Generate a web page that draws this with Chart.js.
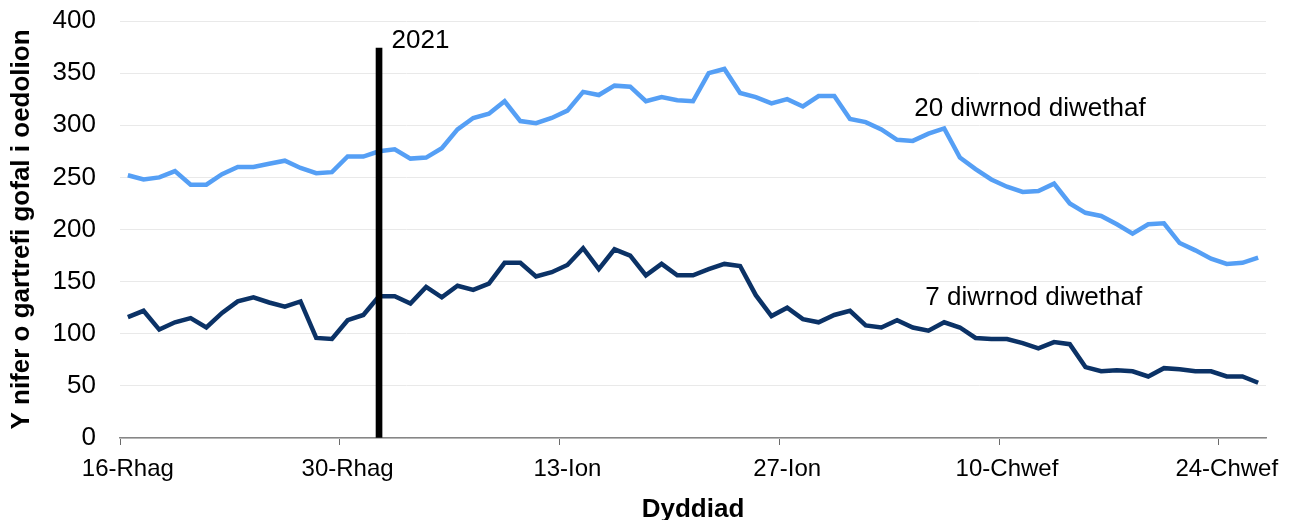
<!DOCTYPE html>
<html>
<head>
<meta charset="utf-8">
<title>Cartrefi gofal i oedolion</title>
<script src="https://cdn.jsdelivr.net/npm/chart.js@4.4.1/dist/chart.umd.min.js"></script>
<style>
  html, body { margin: 0; padding: 0; background: #fff; }
  #wrap { width: 1289px; height: 520px; }
</style>
</head>
<body>
<div id="wrap"><canvas id="chart" width="1289" height="520"></canvas></div>
<script>
// Misoedd a dyddiau (16 Rhagfyr 2020 - 26 Chwefror 2021)
const monthNames = ['Rhag', 'Ion', 'Chwef'];
const monthFirstDay = [16, 1, 1];
const monthLastDay = [31, 31, 26];

// Nifer o gartrefi gofal i oedolion - 20 diwrnod diwethaf
const twentyDay = [
  252, 248, 250, 256, 243, 243, 253, 260, 260, 263, 266, 259, 254, 255, 270, 270,
  275, 277, 268, 269, 278, 296, 307, 311, 323, 304, 302, 307, 314, 332, 329,
  338, 337, 323, 327, 324, 323, 350, 354, 331, 327, 321, 325, 318, 328, 328, 306,
  303, 296, 286, 285, 292, 297, 269, 258, 248, 241, 236, 237, 244, 225, 216, 213,
  205, 196, 205, 206, 187, 180, 172, 167, 168, 173
];

// Nifer o gartrefi gofal i oedolion - 7 diwrnod diwethaf
const sevenDay = [
  116, 122, 104, 111, 115, 106, 120, 131, 135, 130, 126, 131, 96, 95, 113, 118,
  136, 136, 129, 145, 135, 146, 142, 148, 168, 168, 155, 159, 166, 182, 162,
  181, 175, 156, 167, 156, 156, 162, 167, 165, 137, 117, 125, 114, 111, 118, 122,
  108, 106, 113, 106, 103, 111, 106, 96, 95, 95, 91, 86, 92, 90, 68, 64,
  65, 64, 59, 67, 66, 64, 64, 59, 59, 53
];

// Llinell 2021 (1 Ionawr)
const markerLabel = '1-Ion';
const markerHeight = 374;

const yTicks = [0, 50, 100, 150, 200, 250, 300, 350, 400];

const labels = [];
monthNames.forEach(function(m, k) {
  for (let d = monthFirstDay[k]; d <= monthLastDay[k]; d++) {
    labels.push(d + '-' + m);
  }
});

const markerData = labels.map(function(l) { return l === markerLabel ? markerHeight : null; });

// Testunau ar y siart
const notes = [
  { text: '20 diwrnod diwethaf', at: 50.1, value: 316 },
  { text: '7 diwrnod diwethaf', at: 50.8, value: 134.5 },
  { text: '2021', at: 16.8, value: 381 }
];

const notesPlugin = {
  id: 'notes',
  afterDatasetsDraw(chart) {
    const ctx = chart.ctx;
    const x = chart.scales.x;
    const y = chart.scales.y;
    ctx.save();
    ctx.font = '26px "Liberation Sans", Arial, sans-serif';
    ctx.fillStyle = '#000';
    ctx.textAlign = 'left';
    ctx.textBaseline = 'middle';
    notes.forEach(function(n) {
      ctx.fillText(n.text, x.getPixelForValue(n.at), y.getPixelForValue(n.value));
    });
    ctx.restore();
  }
};

new Chart(document.getElementById('chart'), {
  data: {
    labels: labels,
    datasets: [
      {
        type: 'bar',
        label: '2021',
        data: markerData,
        backgroundColor: '#000',
        barThickness: 6,
        order: 0
      },
      {
        type: 'line',
        label: '20 diwrnod diwethaf',
        data: twentyDay,
        borderColor: '#559ff5',
        borderWidth: 4.5,
        pointRadius: 0,
        tension: 0,
        order: 1
      },
      {
        type: 'line',
        label: '7 diwrnod diwethaf',
        data: sevenDay,
        borderColor: '#0b3266',
        borderWidth: 4.5,
        pointRadius: 0,
        tension: 0,
        order: 1
      }
    ]
  },
  options: {
    responsive: false,
    devicePixelRatio: 1,
    animation: false,
    layout: { padding: { top: 21, right: 23, left: 0, bottom: 0 } },
    plugins: {
      legend: { display: false },
      tooltip: { enabled: false }
    },
    scales: {
      x: {
        offset: true,
        grid: {
          display: true,
          offset: true,
          drawOnChartArea: false,
          tickLength: 7,
          color: function(c) { return c.index % 14 === 0 ? '#6b6b6b' : 'rgba(0,0,0,0)'; }
        },
        border: { display: true, color: '#868686', width: 1.5 },
        ticks: {
          autoSkip: false,
          maxRotation: 0,
          padding: 10,
          color: '#000',
          font: { family: '"Liberation Sans", Arial, sans-serif', size: 24 },
          callback: function(v, i) { return i % 14 === 0 ? labels[i] : ''; }
        },
        title: {
          display: true,
          text: 'Dyddiad',
          color: '#000',
          font: { family: '"Liberation Sans", Arial, sans-serif', size: 26, weight: 'bold', lineHeight: 1 },
          padding: { top: 0, bottom: -3 }
        },
        afterFit: function(s) { s.height = 82; }
      },
      y: {
        min: 0,
        max: 400,
        afterBuildTicks: function(s) { s.ticks = yTicks.map(function(v) { return { value: v }; }); },
        grid: { color: '#e9e9e9', lineWidth: 1, drawTicks: true, tickLength: 22, tickColor: 'rgba(0,0,0,0)' },
        border: { display: false },
        ticks: {
          padding: 2,
          color: '#000',
          font: { family: '"Liberation Sans", Arial, sans-serif', size: 26 }
        },
        title: {
          display: true,
          text: 'Y nifer o gartrefi gofal i oedolion',
          color: '#000',
          font: { family: '"Liberation Sans", Arial, sans-serif', size: 26, weight: 'bold' },
          padding: { top: 6, bottom: 0 }
        },
        afterFit: function(s) { s.width = 120; }
      }
    }
  },
  plugins: [notesPlugin]
});
</script>
</body>
</html>
